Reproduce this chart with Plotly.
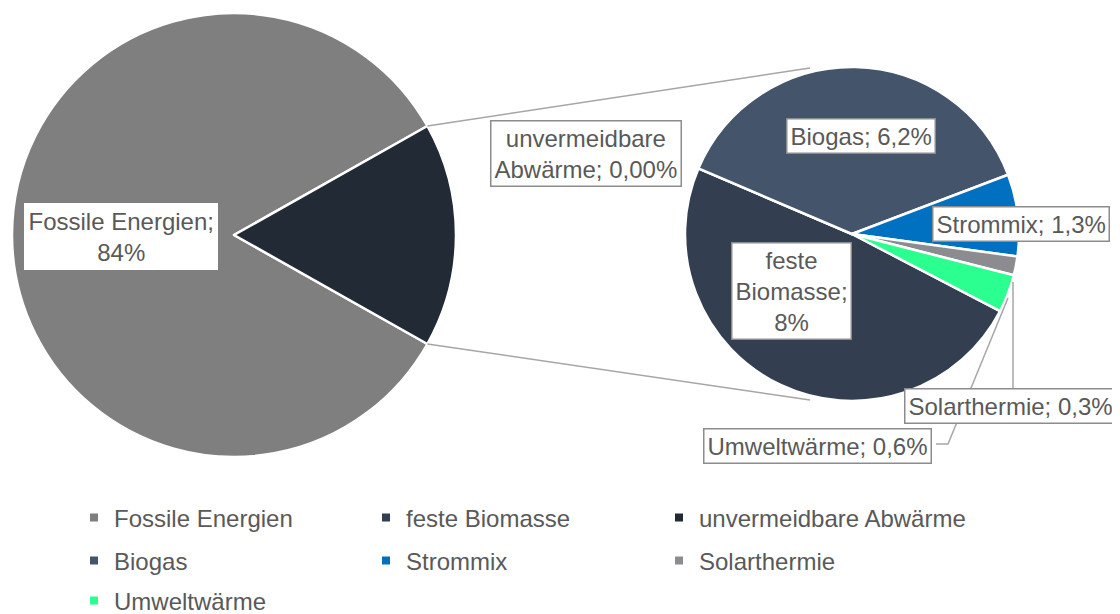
import math

import plotly.graph_objects as go

# the page puts the figure at an 8px body margin, so the figure is 8px smaller
# and all positions below are given in window pixels and shifted by OFF
OFF = 8
W, H = 1120 - OFF, 614 - OFF

# Kategorien in Excel-Reihenfolge; alle ausser der ersten bilden das zweite Kreisdiagramm
kategorien = ["Fossile Energien", "feste Biomasse", "unvermeidbare Abwärme",
              "Biogas", "Strommix", "Solarthermie", "Umweltwärme"]
anteile = [84, 8, 0.0, 6.2, 1.3, 0.3, 0.6]  # in %
nachkomma = [0, 0, 2, 1, 1, 1, 1]
farben = ["#7F7F7F", "#333F50", "#222A35", "#44546A", "#0070C0", "#8C8C90", "#2BFF8F"]
farbe_rest = "#222A35"

TEXT = "#595959"
FONT = "Liberation Sans, Arial, sans-serif"
FS = 24

haupt = anteile[0]
rest_namen = kategorien[1:]
rest_werte = anteile[1:]
rest_summe = sum(rest_werte)
gesamt = haupt + rest_summe

# geometry of the two pies in window pixels (center x, center y, radius)
L = (234, 235, 222)
R = (852, 234, 167)


def px(x, y):
    return (x - OFF) / W, 1 - (y - OFF) / H


def domain(c):
    cx, cy, r = c
    x0, y0 = px(cx - r, cy + r)
    x1, y1 = px(cx + r, cy - r)
    return dict(x=[x0, x1], y=[y0, y1])


def fmt(v, d):
    return f"{v:.{d}f}".replace(".", ",") + "%"


fig = go.Figure()

# left pie: main category plus the aggregated rest, rest centred at 3 o'clock
fig.add_trace(go.Pie(
    labels=[kategorien[0], "Rest"],
    values=[haupt, rest_summe],
    marker=dict(colors=[farben[0], farbe_rest], line=dict(color="white", width=2.5)),
    domain=domain(L), sort=False, direction="clockwise",
    rotation=90 + 180 * rest_summe / gesamt,
    textinfo="none", hoverinfo="label+percent", showlegend=False,
))

# right pie: breakdown of the rest
fig.add_trace(go.Pie(
    labels=rest_namen,
    values=rest_werte,
    marker=dict(colors=farben[1:], line=dict(color="white", width=2.5)),
    domain=domain(R), sort=False, direction="clockwise", rotation=117.5,
    textinfo="none", hoverinfo="label+value", showlegend=False,
))

# legend: one small legend per entry, placed on a 3-column grid like Excel
spalten_x = [74, 366, 659]     # window px, left edge of each legend
zeilen_y = [518, 561, 601]     # window px, row centres
legend_layout = {}
for i, (name, farbe) in enumerate(zip(kategorien, farben)):
    lg = "legend" if i == 0 else f"legend{i + 1}"
    fig.add_trace(go.Scatter(
        x=[None], y=[None], mode="markers", name=name, legend=lg,
        marker=dict(symbol="square", size=8, color=farbe),
        hoverinfo="skip",
    ))
    lx, ly = px(spalten_x[i % 3], zeilen_y[i // 3])
    legend_layout[lg] = dict(
        x=lx, y=ly, xanchor="left", yanchor="middle",
        font=dict(family=FONT, size=FS, color=TEXT),
        bgcolor="rgba(0,0,0,0)", itemclick=False, itemdoubleclick=False,
    )

# connector lines between the pies
half = math.pi * rest_summe / gesamt
cx, cy, r = L
p_oben = (cx + r * math.cos(half), cy - r * math.sin(half))
p_unten = (cx + r * math.cos(half), cy + r * math.sin(half))
linie = dict(color="#A6A6A6", width=1.5)
for (x0, y0), (x1, y1) in [(p_oben, (810, 68)), (p_unten, (810, 400))]:
    a, b = px(x0, y0)
    c, d = px(x1, y1)
    fig.add_shape(type="line", xref="paper", yref="paper", x0=a, y0=b, x1=c, y1=d, line=linie)


# leader lines for the small slices
def pfad(punkte):
    s = ""
    for i, (x, y) in enumerate(punkte):
        a, b = px(x, y)
        s += ("M" if i == 0 else "L") + f"{a},{b} "
    return s


fig.add_shape(type="path", xref="paper", yref="paper", path=pfad([(1013, 282), (1013, 388)]), line=linie)
fig.add_shape(type="path", xref="paper", yref="paper",
              path=pfad([(1008, 298), (948, 444), (936, 444)]), line=linie)

# data labels (box centres in window pixels)
label_pos = {
    "Fossile Energien": (121, 237),
    "feste Biomasse": (792, 291),
    "unvermeidbare Abwärme": (586, 153),
    "Biogas": (861, 136),
    "Strommix": (1021, 224),
    "Solarthermie": (1010, 406),
    "Umweltwärme": (817, 446),
}
umbruch = {
    "Fossile Energien": "Fossile Energien;<br>{v}",
    "feste Biomasse": "feste<br>Biomasse;<br>{v}",
    "unvermeidbare Abwärme": "unvermeidbare<br>Abwärme; {v}",
}
for name, wert, d in zip(kategorien, anteile, nachkomma):
    x, y = label_pos[name]
    text = umbruch.get(name, name + "; {v}").format(v=fmt(wert, d))
    a, b = px(x, y)
    fig.add_annotation(
        x=a, y=b, xref="paper", yref="paper", text=text, showarrow=False,
        xanchor="center", yanchor="middle", align="center",
        font=dict(family=FONT, size=FS, color=TEXT),
        bgcolor="white", bordercolor="#8C8C8C" if name != "Fossile Energien" else "white",
        borderwidth=1.5, borderpad=3,
    )

fig.update_layout(
    width=W, height=H,
    margin=dict(l=0, r=0, t=0, b=0, autoexpand=False),
    paper_bgcolor="white", plot_bgcolor="white",
    font=dict(family=FONT, size=FS, color=TEXT),
    xaxis=dict(visible=False), yaxis=dict(visible=False),
    **legend_layout,
)

fig.write_html("out.html")
